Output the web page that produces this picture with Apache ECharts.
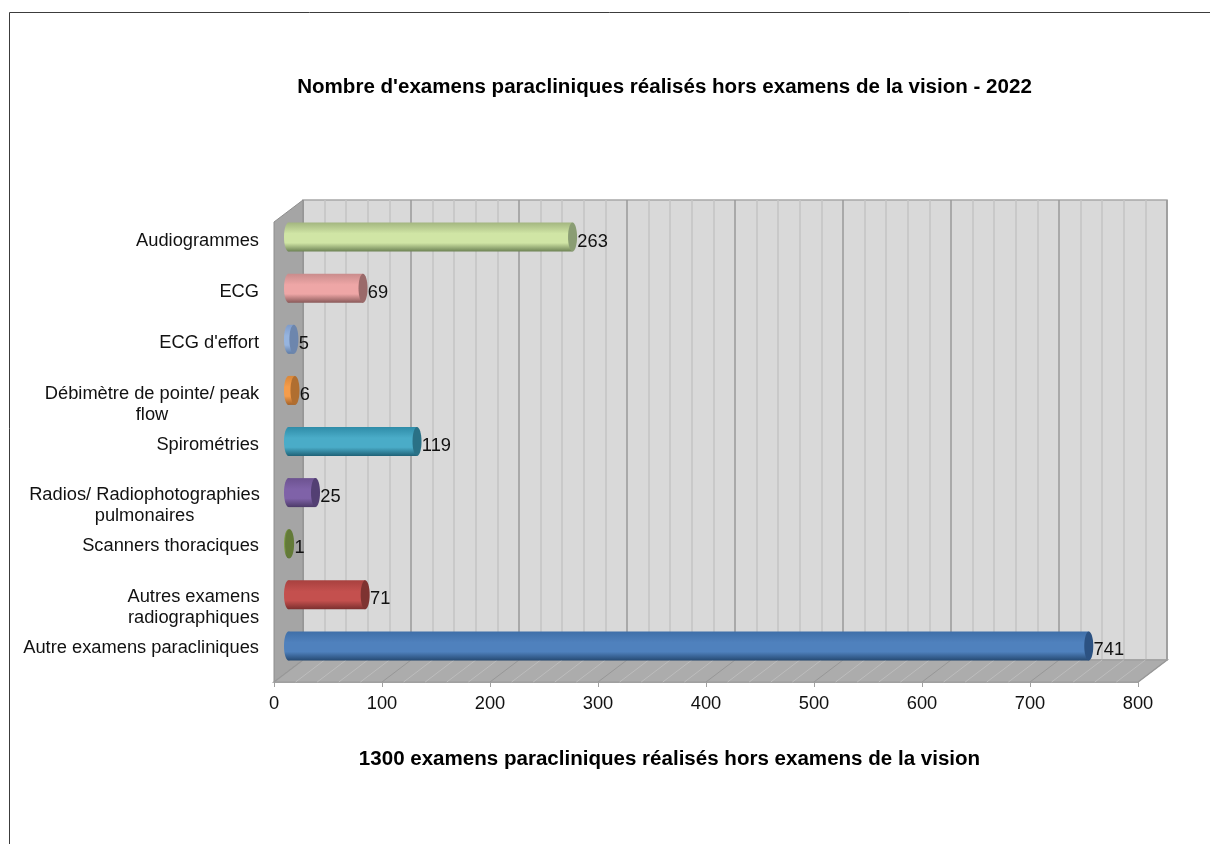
<!DOCTYPE html>
<html>
<head>
<meta charset="utf-8">
<style>html,body{margin:0;padding:0;background:#fff}#c{width:1210px;height:844px}</style>
<script src="https://cdn.jsdelivr.net/npm/echarts@6/dist/echarts.min.js"></script>
</head>
<body>
<div id="c"></div>
<script>
const titleText = "Nombre d'examens paracliniques réalisés hors examens de la vision - 2022";
const footerText = "1300 examens paracliniques réalisés hors examens de la vision";
const categories = [
  "Audiogrammes",
  "ECG",
  "ECG d'effort",
  "Débimètre de pointe/ peak\nflow",
  "Spirométries",
  "Radios/ Radiophotographies\npulmonaires",
  "Scanners thoraciques",
  "Autres examens\nradiographiques",
  "Autre examens paracliniques"
];
const values = [263, 69, 5, 6, 119, 25, 1, 71, 741];
const xMin = 0, xMax = 800, xStep = 100, xMinorSplit = 5;
const floorTicks = [0,20,40,60,80,100,120,140,160,180,200,220,240,260,280,300,320,340,360,380,400,420,440,460,480,500,520,540,560,580,600,620,640,660,680,700,720,740,760,780,800];

// [top edge, highlight, bottom edge, end cap]
const palette = [
  ["#a3b680","#d0e5a5","#6d8254","#8a9d74"],
  ["#c98c8c","#eea6a6","#8a5a5a","#9a6a6a"],
  ["#7f9ccb","#96b4df","#5f7ca6","#6d86ad"],
  ["#d8873a","#f59c4a","#a3632a","#b06e30"],
  ["#2f8ca8","#4aacc8","#1f6277","#2a7186"],
  ["#6c5290","#7f62a8","#4c3a68","#533f73"],
  ["#6e8a3c","#7f9e48","#556b2f","#637a38"],
  ["#a8413f","#c4504e","#7a2f2e","#7e3331"],
  ["#3f6fa8","#4f81bd","#264a73","#2c5282"]
];

const FONT = '"Liberation Sans", Arial, sans-serif';
const FS = 18.3, TFS = 20.55;
const depthX = 29, depthY = 22;
const frontGrid = {left: 274, top: 222, width: 864, height: 460};

function renderWalls(params, api) {
  const g = params.coordSys;
  const L = g.x, T = g.y, R = g.x + g.width, B = g.y + g.height;
  const wall = [[L,T],[L+depthX,T-depthY],[L+depthX,B-depthY],[L,B]];
  const floor = [[L,B],[L+depthX,B-depthY],[R+depthX,B-depthY],[R,B]];
  return {
    type: 'group',
    children: [
      {type:'polygon', shape:{points:wall}, style:{fill:'#a5a5a5', stroke:'#8e8e8e', lineWidth:1}},
      {type:'polygon', shape:{points:floor}, style:{fill:'#acacac', stroke:'#a0a0a0', lineWidth:1.5}}
    ]
  };
}
function renderFloorLine(params, api) {
  const g = params.coordSys;
  const p = api.coord([api.value(0), 0]);
  const B = g.y + g.height;
  const major = api.value(0) % xStep === 0;
  return {
    type:'line',
    shape:{x1:p[0], y1:B, x2:p[0]+depthX, y2:B-depthY},
    style:{stroke: major ? '#979797' : '#bdbdbd', lineWidth:1}
  };
}
function renderBar(params, api) {
  const i = params.dataIndex;
  const v = api.value(0);
  const end = api.coord([v, api.value(1)]);
  const start = api.coord([0, api.value(1)]);
  const h = 29, rx = 4.5;
  const c = palette[i];
  const grad = new echarts.graphic.LinearGradient(0,0,0,1,[
    {offset:0, color:c[0]},
    {offset:0.38, color:c[1]},
    {offset:0.7, color:c[1]},
    {offset:1, color:c[2]}
  ]);
  const y = end[1];
  return {
    type:'group',
    children:[
      {type:'ellipse', shape:{cx:start[0], cy:y, rx:rx, ry:h/2}, style:{fill:grad}},
      {type:'rect', shape:{x:start[0], y:y-h/2, width:end[0]-start[0], height:h}, style:{fill:grad}},
      {type:'ellipse', shape:{cx:end[0], cy:y, rx:rx, ry:h/2}, style:{fill:c[3]}},
      {type:'text', style:{x:end[0]+rx+0.3, y:y+4.5, text:String(v), fill:'#111', font:FS+'px '+FONT, verticalAlign:'middle', align:'left'}}
    ]
  };
}

function labelFormatter(value) {
  const lines = value.split('\n');
  if (lines.length === 1) return value;
  const key = value.startsWith('Déb') ? 'a' : value.startsWith('Radios') ? 'b' : 'c';
  return lines.map(s => '{'+key+'|'+s+'}').join('\n');
}
const richBase = {fontSize:FS, fontFamily:FONT, color:'#111', lineHeight:21, align:'center'};

const hiddenCat = (gridIndex) => ({type:'category', gridIndex, data:categories, inverse:true, show:false});
const hiddenVal = (gridIndex) => ({type:'value', gridIndex, min:xMin, max:xMax, interval:xStep, show:false, splitLine:{show:false}});

const option = {
  animation:false,
  backgroundColor:'#fff',
  title:[
    {text:titleText, left:659.5, top:72, textAlign:'center', textStyle:{fontFamily:FONT, fontSize:TFS, fontWeight:'bold', color:'#000'}},
    {text:footerText, left:664.5, top:744, textAlign:'center', textStyle:{fontFamily:FONT, fontSize:TFS, fontWeight:'bold', color:'#000'}}
  ],
  graphic:[{type:'polyline', shape:{points:[[9.5,844],[9.5,12.5],[1210,12.5]]}, style:{stroke:'#3c3c3c', fill:null, lineWidth:1}, silent:true}],
  grid:[
    // front plane: value axis
    Object.assign({}, frontGrid),
    // back wall
    {left:frontGrid.left+depthX, top:frontGrid.top-depthY, width:frontGrid.width, height:frontGrid.height, show:true, backgroundColor:'#d9d9d9', borderColor:'#a8a8a8', borderWidth:1.5},
    // bars sit half way through the depth
    {left:frontGrid.left+14.5, top:frontGrid.top-10.5, width:frontGrid.width, height:frontGrid.height},
    // category labels
    {left:frontGrid.left, top:205, width:frontGrid.width, height:458}
  ],
  xAxis:[
    {type:'value', gridIndex:0, min:xMin, max:xMax, interval:xStep, position:'bottom',
     axisLine:{show:true, lineStyle:{color:'#a0a0a0'}},
     axisTick:{show:true, length:5, lineStyle:{color:'#a0a0a0'}},
     axisLabel:{fontFamily:FONT, fontSize:FS, color:'#111', margin:13},
     splitLine:{show:false}},
    {type:'value', gridIndex:1, min:xMin, max:xMax, interval:xStep,
     axisLine:{show:false}, axisTick:{show:false}, axisLabel:{show:false},
     minorTick:{show:false, splitNumber:xMinorSplit},
     splitLine:{show:true, lineStyle:{color:'#989898', width:1.5}},
     minorSplitLine:{show:true, lineStyle:{color:'#c4c4c4', width:1.5}}},
    hiddenVal(2),
    hiddenVal(3)
  ],
  yAxis:[
    hiddenCat(0),
    hiddenCat(1),
    hiddenCat(2),
    {type:'category', gridIndex:3, data:categories, inverse:true,
     axisLine:{show:false}, axisTick:{show:false}, splitLine:{show:false},
     axisLabel:{interval:0, margin:15, align:'right', verticalAlign:'top', lineHeight:21, fontFamily:FONT, fontSize:FS, color:'#111',
       formatter:labelFormatter,
       rich:{
         a:Object.assign({width:214}, richBase),
         b:Object.assign({width:229}, richBase),
         c:Object.assign({width:131}, richBase)
       }}}
  ],
  series:[
    {type:'custom', xAxisIndex:0, yAxisIndex:0, z:1, silent:true, renderItem:renderWalls, data:[[0,0]]},
    {type:'custom', xAxisIndex:0, yAxisIndex:0, z:2, silent:true, renderItem:renderFloorLine, encode:{x:0}, data:floorTicks.map(t=>[t,0])},
    {type:'custom', name:'Examens', xAxisIndex:2, yAxisIndex:2, z:5, silent:true, renderItem:renderBar, encode:{x:0,y:1},
     data:values.map((v,i)=>[v,categories[i]])}
  ]
};
const chart = echarts.init(document.getElementById('c'), null, {renderer:'canvas'});
chart.setOption(option);
</script>
</body>
</html>
